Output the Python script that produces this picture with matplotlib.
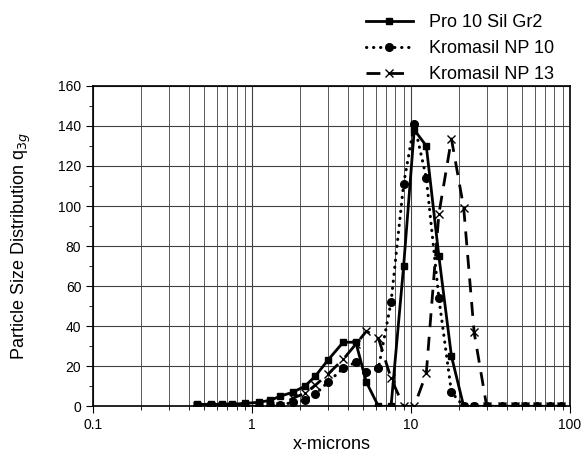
import matplotlib.pyplot as plt
from matplotlib.ticker import FixedLocator, NullFormatter, MultipleLocator

plt.rcParams['font.family'] = ['Liberation Sans', 'DejaVu Sans']

# size classes (microns)
sizes = [0.45, 0.55, 0.65, 0.75, 0.9, 1.1, 1.3, 1.5, 1.8, 2.15, 2.5, 3.0,
         3.75, 4.5, 5.25, 6.25, 7.5, 9.0, 10.5, 12.5, 15, 18, 21.5, 25,
         30, 37.5, 45, 52.5, 62.5, 75, 87.5]

pro10 = [1, 1, 1, 1, 1.5, 2, 3, 5, 7, 10, 15, 23,
         32, 32, 12, 0, 0, 70, 138, 130, 75, 25, 0, 0,
         0, 0, 0, 0, 0, 0, 0]
np10 = [0, 0, 0, 0, 0, 0, 0, 0.5, 2, 3, 6, 12,
        19, 22, 17, 19, 52, 111, 141, 114, 54, 7, 0, 0,
        0, 0, 0, 0, 0, 0, 0]
np13 = [0, 0, 0, 0, 0, 0, 0, 0, 4, 6.5, 10.5, 16,
        23.5, 31, 37.5, 34, 14, 0, 0, 16.5, 96, 133.5, 99, 37,
        0, 0, 0, 0, 0, 0, 0]

fig = plt.figure(figsize=(5.82, 4.54), dpi=100)
ax = fig.add_axes([0.16, 0.105, 0.819, 0.706])

l3, = ax.plot(sizes, np13, color='black', lw=2, linestyle=(0, (5, 3.5)),
              marker='x', ms=6, mew=1, zorder=3, label='Kromasil NP 13')
l2, = ax.plot(sizes, np10, color='black', lw=2.2, linestyle=(0, (0.1, 2.2)),
              dash_capstyle='round', marker='o', ms=5.5, zorder=4,
              label='Kromasil NP 10')
l1, = ax.plot(sizes, pro10, color='black', lw=2, linestyle='-',
              marker='s', ms=5, zorder=5, label='Pro 10 Sil Gr2')

ax.set_xscale('log')
ax.set_xlim(0.1, 100)
ax.set_ylim(0, 160)
ax.xaxis.set_major_locator(FixedLocator([0.1, 1, 10, 100]))
ax.set_xticklabels(['0.1', '1', '10', '100'])
ax.xaxis.set_minor_formatter(NullFormatter())
ax.yaxis.set_major_locator(MultipleLocator(20))
ax.yaxis.set_minor_locator(MultipleLocator(10))

ax.grid(True, which='major', color='0.25', lw=0.8)
ax.grid(True, which='minor', axis='x', color='0.35', lw=0.7)
ax.set_axisbelow(True)

ax.tick_params(which='both', direction='out', labelsize=10)
ax.tick_params(which='major', length=5)
ax.tick_params(which='minor', length=3)
for s in ax.spines.values():
    s.set_linewidth(1.2)

ax.set_xlabel('x-microns', fontsize=13, labelpad=3)
ax.set_ylabel('Particle Size Distribution q$_{3g}$', fontsize=13, labelpad=18)

fig.legend(handles=[l1, l2, l3], loc='upper right',
           bbox_to_anchor=(0.98, 1.005), frameon=False, fontsize=13,
           handlelength=2.6, labelspacing=0.5, handletextpad=0.9)

fig.savefig('out.png', dpi=100)
